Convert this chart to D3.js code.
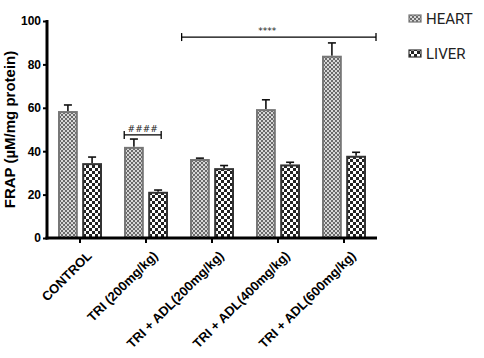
<!DOCTYPE html>
<html><head><meta charset="utf-8">
<script src="https://cdn.jsdelivr.net/npm/d3@7"></script>
<style>body{margin:0;background:#fff}</style>
</head><body>
<svg id="c" width="484" height="358"></svg>
<script>
const categories = ["CONTROL","TRI (200mg/kg)","TRI + ADL(200mg/kg)","TRI + ADL(400mg/kg)","TRI + ADL(600mg/kg)"];
const series = ["HEART","LIVER"];
const heartMean = [58.5, 42, 36.4, 59.4, 84];
const heartErr  = [2.8, 3.6, 0.4, 4.3, 5.9];
const liverMean = [34.5, 21.3, 32.2, 33.9, 37.9];
const liverErr  = [2.8, 0.8, 1.2, 1.0, 1.6];
const yTicks = [0,20,40,60,80,100];
const brackets = [
  {label:"####", c1:1, f1:0.17, c2:1, f2:0.73, y:47.5},
  {label:"****", c1:2, f1:0.04, c2:4, f2:0.985, y:92.6, tx:0.44}
];

const svg = d3.select("#c");
const defs = svg.append("defs");
const ph = defs.append("pattern").attr("id","pH").attr("patternUnits","userSpaceOnUse").attr("width",4).attr("height",4);
ph.append("rect").attr("width",4).attr("height",4).attr("fill","#d8d8d8");
ph.append("rect").attr("width",2).attr("height",2).attr("fill","#6a6a6a");
ph.append("rect").attr("x",2).attr("y",2).attr("width",2).attr("height",2).attr("fill","#6a6a6a");
const pl = defs.append("pattern").attr("id","pL").attr("patternUnits","userSpaceOnUse").attr("width",6).attr("height",6);
pl.append("rect").attr("width",6).attr("height",6).attr("fill","#ffffff");
pl.append("rect").attr("width",3).attr("height",3).attr("fill","#222");
pl.append("rect").attr("x",3).attr("y",3).attr("width",3).attr("height",3).attr("fill","#222");

const x = d3.scaleBand().domain(categories).range([47,377]).padding(0);
const x1 = d3.scaleBand().domain(series).range([11,55]).paddingInner(0.18);
const y = d3.scaleLinear().domain([0,100]).range([238,21]);

const data = categories.map((c,i)=>({c, vals:[
  {s:"HEART", m:heartMean[i], e:heartErr[i]},
  {s:"LIVER", m:liverMean[i], e:liverErr[i]}]}));

const style = {HEART:{fill:"url(#pH)",stroke:"#777"}, LIVER:{fill:"url(#pL)",stroke:"#333"}};
const FONT = "Liberation Sans, Arial, sans-serif";

const g = svg.append("g");
const grp = g.selectAll("g.grp").data(data).join("g").attr("transform",d=>`translate(${x(d.c)},0)`);
grp.selectAll("g.err").data(d=>d.vals).join("g").each(function(d){
  const cx = x1(d.s)+x1.bandwidth()/2;
  const s = d3.select(this);
  s.append("line").attr("x1",cx).attr("x2",cx).attr("y1",y(d.m)).attr("y2",y(d.m+d.e)).attr("stroke","#111").attr("stroke-width",1.6);
  s.append("line").attr("x1",cx-4).attr("x2",cx+4).attr("y1",y(d.m+d.e)).attr("y2",y(d.m+d.e)).attr("stroke","#111").attr("stroke-width",1.6);
});
grp.selectAll("rect.bar").data(d=>d.vals).join("rect")
  .attr("x",d=>x1(d.s)+1).attr("width",x1.bandwidth()-2)
  .attr("y",d=>y(d.m)+1).attr("height",d=>y(0)-y(d.m)-1)
  .attr("fill",d=>style[d.s].fill).attr("stroke",d=>style[d.s].stroke).attr("stroke-width",2);

const ya = svg.append("g").attr("transform","translate(47,0)")
  .call(d3.axisLeft(y).tickValues(yTicks).tickSize(4).tickSizeOuter(0).tickPadding(2));
ya.select(".domain").attr("stroke","#000").attr("stroke-width",3).attr("d",`M0,${y(100)-1}V${y(0)+1.5}`);
ya.selectAll(".tick line").attr("stroke","#000").attr("stroke-width",2);
ya.selectAll(".tick text").attr("font-family",FONT).attr("font-weight","bold").attr("font-size",12).attr("fill","#000");

const xa = svg.append("g").attr("transform",`translate(0,${y(0)})`)
  .call(d3.axisBottom(x).tickSize(5).tickSizeOuter(0).tickPadding(4));
xa.select(".domain").attr("stroke","#000").attr("stroke-width",3).attr("d","M45.5,0H377");
xa.selectAll(".tick line").attr("stroke","#000").attr("stroke-width",2);
xa.selectAll(".tick text").attr("font-family",FONT).attr("font-weight","bold").attr("font-size",13).attr("fill","#000")
  .attr("text-anchor","end").attr("dy","0.35em").attr("transform","translate(3,9) rotate(-45)");

svg.append("text").attr("transform",`translate(15,${(y(0)+y(100))/2}) rotate(-90)`)
  .attr("text-anchor","middle").attr("font-family",FONT).attr("font-weight","bold").attr("font-size",15).text("FRAP (µM/mg protein)");

brackets.forEach(b=>{
  const xa1 = x(categories[b.c1]) + b.f1*x.bandwidth();
  const xa2 = x(categories[b.c2]) + b.f2*x.bandwidth();
  const yy = y(b.y);
  const bg = svg.append("g").attr("stroke","#000").attr("stroke-width",1.3);
  bg.append("line").attr("x1",xa1).attr("x2",xa2).attr("y1",yy).attr("y2",yy);
  bg.append("line").attr("x1",xa1).attr("x2",xa1).attr("y1",yy-4).attr("y2",yy+4);
  bg.append("line").attr("x1",xa2).attr("x2",xa2).attr("y1",yy-4).attr("y2",yy+4);
  const tx = b.tx!==undefined ? xa1+(xa2-xa1)*b.tx : (xa1+xa2)/2;
  svg.append("text").attr("x",tx).attr("y",yy-3).attr("text-anchor","middle")
    .attr("font-family","DejaVu Sans, sans-serif").attr("font-size",9).attr("fill","#222").text(b.label);
});

const lg = svg.append("g");
series.forEach((s,i)=>{
  const ly = 15 + i*35;
  lg.append("rect").attr("x",409).attr("y",ly).attr("width",12).attr("height",7).attr("fill",style[s].fill).attr("stroke",style[s].stroke).attr("stroke-width",1.2);
  lg.append("text").attr("x",426).attr("y",ly+9).attr("font-family","Roboto, sans-serif").attr("font-size",15).attr("fill","#222").text(s);
});
</script>
</body></html>
